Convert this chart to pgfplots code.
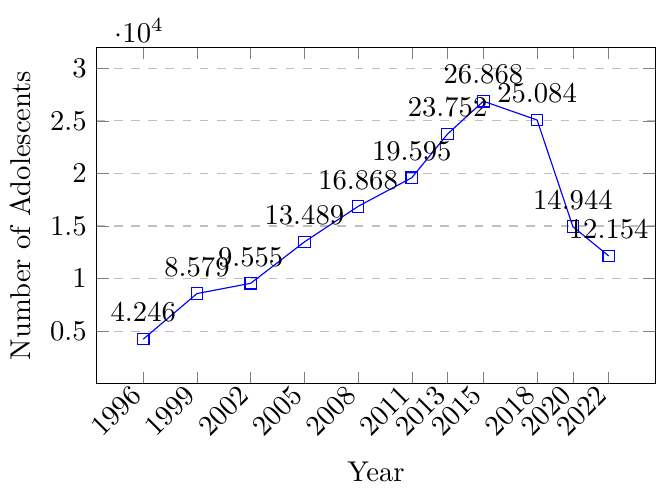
\documentclass[border=0pt]{standalone}
\usepackage{pgfplots}
\pgfplotsset{compat=1.18}
\begin{document}
\begin{tikzpicture}
\begin{axis}[
  scale only axis,
  width=195pt, height=117.5pt,
  xmin=1993.4, xmax=2024.6,
  ymin=0, ymax=32000,
  xtick=data,
  x tick label style={rotate=45, anchor=east, /pgf/number format/1000 sep={}},
  ytick={5000,10000,15000,20000,25000,30000},
  ymajorgrids,
  grid style={dashed, gray!50},
  xlabel={Year},
  ylabel={Number of Adolescents},
  every y tick scale label/.append style={xshift=3pt, yshift=-2pt},
  nodes near coords,
  every node near coord/.append style={black, yshift=2.5pt, /pgf/number format/1000 sep={.}},
]
\addplot[color=blue, mark=square] coordinates {
  (1996,4246) (1999,8579) (2002,9555) (2005,13489) (2008,16868)
  (2011,19595) (2013,23752) (2015,26868) (2018,25084) (2020,14944) (2022,12154)
};
\end{axis}
\path (current axis.north west) ++(0,16.5pt);
\end{tikzpicture}
\end{document}
